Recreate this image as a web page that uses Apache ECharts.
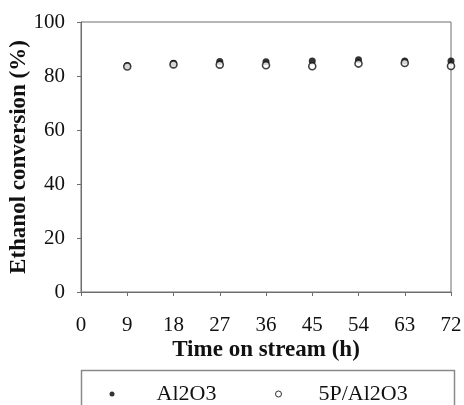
<!DOCTYPE html>
<html>
<head>
<meta charset="utf-8">
<script src="https://cdn.jsdelivr.net/npm/echarts@6/dist/echarts.min.js"></script>
<style>
  html, body { margin: 0; padding: 0; background: #fff; }
  #chart { width: 464px; height: 405px; }
</style>
</head>
<body>
<div id="chart"></div>
<script>
// Time on stream (h) and ethanol conversion (%) for each catalyst
const timeOnStream = [9, 18, 27, 36, 45, 54, 63, 72];
const al2o3 = [83.9, 84.7, 85.4, 85.3, 85.6, 86.0, 85.6, 85.6];
const p5Al2o3 = [83.5, 84.3, 84.2, 84.0, 83.6, 84.6, 84.8, 83.7];
const xTicks = [0, 9, 18, 27, 36, 45, 54, 63, 72];
const yTicks = [0, 20, 40, 60, 80, 100];

const seriesNames = ['Al2O3', '5P/Al2O3'];
const FONT = '"Liberation Serif", "Times New Roman", serif';
const AXIS_COLOR = '#6e6e6e';

const pairs = (xs, ys) => xs.map((x, i) => [x, ys[i]]);

const chart = echarts.init(document.getElementById('chart'), null, { renderer: 'canvas' });

chart.setOption({
  animation: false,
  backgroundColor: '#fff',
  grid: {
    left: 81, right: 13, top: 22, bottom: 113,
    containLabel: false, outerBoundsMode: 'none',
    show: true, borderColor: AXIS_COLOR, borderWidth: 1, backgroundColor: 'transparent'
  },
  xAxis: {
    type: 'value',
    min: xTicks[0], max: xTicks[xTicks.length - 1], interval: 9,
    name: 'Time on stream (h)',
    nameLocation: 'middle', nameGap: 47, nameMoveOverlap: false,
    nameTextStyle: { fontFamily: FONT, fontWeight: 'bold', fontSize: 23, color: '#111' },
    axisLine: { show: true, lineStyle: { color: AXIS_COLOR, width: 1 } },
    axisTick: { show: true, inside: false, length: 4, lineStyle: { color: AXIS_COLOR } },
    axisLabel: { fontFamily: FONT, fontSize: 21, color: '#111', margin: 23 },
    splitLine: { show: false }
  },
  yAxis: {
    type: 'value',
    min: yTicks[0], max: yTicks[yTicks.length - 1], interval: 20,
    name: 'Ethanol conversion (%)',
    nameLocation: 'middle', nameGap: 50, nameMoveOverlap: false,
    nameTextStyle: { fontFamily: FONT, fontWeight: 'bold', fontSize: 23, color: '#111' },
    axisLine: { show: true, lineStyle: { color: AXIS_COLOR, width: 1 } },
    axisTick: { show: true, inside: false, length: 4, lineStyle: { color: AXIS_COLOR } },
    axisLabel: { fontFamily: FONT, fontSize: 21, color: '#111', margin: 16 },
    splitLine: { show: false }
  },
  legend: [
    {
      data: [{ name: seriesNames[0], icon: 'circle', itemStyle: { color: '#000', borderWidth: 0 } }],
      left: 109.5, top: 383, itemWidth: 5, itemHeight: 5, padding: 0,
      textStyle: { fontFamily: FONT, fontSize: 22, color: '#111', padding: [0, 0, 0, 37] }
    },
    {
      data: [{ name: seriesNames[1], icon: 'circle', itemStyle: { color: '#fff', borderColor: '#000', borderWidth: 1 } }],
      left: 275, top: 383, itemWidth: 6, itemHeight: 6, padding: 0,
      textStyle: { fontFamily: FONT, fontSize: 22, color: '#111', padding: [0, 0, 0, 32] }
    }
  ],
  graphic: [
    {
      type: 'rect', left: 79, top: 368, silent: true, z: -1,
      shape: { width: 373, height: 60 },
      style: { fill: 'none', stroke: '#8a8a8a', lineWidth: 1.5 }
    }
  ],
  series: [
    {
      name: seriesNames[0], type: 'scatter', clip: false,
      symbol: 'circle', symbolSize: 7,
      itemStyle: { color: '#000' },
      data: pairs(timeOnStream, al2o3), z: 2
    },
    {
      name: seriesNames[1], type: 'scatter', clip: false,
      symbol: 'circle', symbolSize: 7,
      itemStyle: { color: '#fff', borderColor: '#111', borderWidth: 1.6 },
      data: pairs(timeOnStream, p5Al2o3), z: 3
    }
  ]
});
</script>
</body>
</html>
